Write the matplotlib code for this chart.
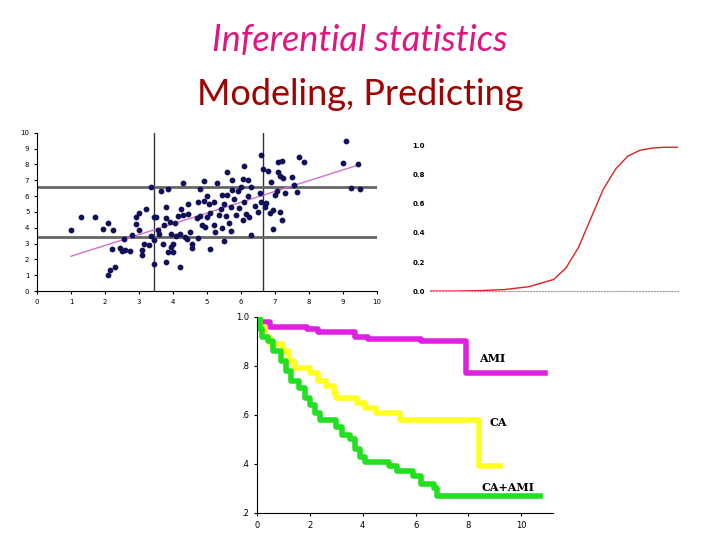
import matplotlib
matplotlib.use("Agg")
import matplotlib.pyplot as plt
import numpy as np

# scatter data
pts = [(1.0,3.85),(1.3,4.7),(1.7,4.7),(1.95,3.9),(2.1,4.3),(2.25,3.85),(2.1,1.0),(2.15,1.35),(2.3,1.55),(2.2,2.65),(2.45,2.7),(2.5,2.55),(2.6,2.6),(2.55,3.3),(2.75,2.55),(2.8,3.55),(2.9,4.7),(2.9,4.25),(3.0,3.85),(3.0,4.95),(3.1,2.6),(3.1,2.25),(3.15,3.0),(3.2,5.2),(3.3,2.9),(3.35,3.5),(3.35,6.55),(3.45,4.7),(3.5,4.7),(3.45,3.2),(3.45,1.7),(3.55,3.85),(3.6,3.6),(3.65,6.35),(3.7,3.0),(3.75,4.2),(3.8,5.3),(3.8,4.6),(3.85,6.45),(3.8,1.85),(3.85,2.5),(3.9,4.35),(3.95,2.8),(3.95,3.6),(4.0,2.5),(4.0,3.0),(4.05,4.3),(4.1,3.5),(4.15,4.75),(4.2,3.6),(4.2,1.5),(4.25,5.2),(4.3,6.85),(4.3,4.8),(4.35,3.4),(4.4,3.3),(4.45,5.5),(4.45,4.9),(4.5,3.75),(4.55,2.95),(4.55,2.75),(4.7,4.6),(4.75,5.6),(4.75,3.35),(4.8,4.75),(4.8,6.45),(4.85,4.2),(4.9,6.95),(4.9,5.7),(4.95,4.05),(5.0,4.7),(5.0,6.0),(5.05,5.5),(5.1,4.95),(5.1,2.65),(5.2,4.2),(5.2,5.6),(5.25,3.75),(5.3,6.8),(5.35,4.8),(5.4,5.2),(5.45,6.1),(5.45,4.0),(5.5,3.15),(5.5,5.5),(5.55,4.75),(5.6,7.55),(5.6,6.05),(5.65,4.3),(5.7,5.3),(5.7,3.8),(5.75,6.4),(5.75,7.05),(5.8,5.8),(5.85,4.8),(5.9,6.3),(5.95,5.25),(6.0,6.55),(6.05,7.1),(6.05,4.5),(6.1,5.65),(6.1,7.9),(6.15,4.9),(6.2,7.0),(6.2,6.0),(6.25,4.7),(6.3,3.55),(6.3,6.6),(6.4,5.4),(6.5,5.0),(6.55,6.2),(6.6,8.6),(6.6,5.6),(6.65,7.7),(6.7,5.3),(6.75,5.55),(6.8,7.6),(6.85,4.95),(6.9,6.9),(6.95,5.1),(6.95,3.95),(7.0,6.1),(7.05,6.3),(7.1,8.15),(7.1,7.5),(7.15,7.25),(7.15,5.0),(7.2,4.5),(7.2,8.2),(7.25,7.15),(7.3,6.2),(7.5,7.2),(7.55,6.7),(7.65,6.25),(7.7,8.5),(7.85,8.15),(9.0,8.1),(9.1,9.5),(9.25,6.5),(9.45,8.0),(9.5,6.45)]
sx = [p[0] for p in pts]
sy = [p[1] for p in pts]
reg_x = [1.0, 9.5]
reg_y = [2.2, 8.0]
hlines = [6.6, 3.4]
vlines = [3.45, 6.65]

# sigmoid curve points
sig_x = [0, 1, 2, 3, 4, 5, 5.5, 6, 6.5, 7, 7.5, 8, 8.5, 9, 9.5, 10]
sig_y = [0.0, 0.0, 0.003, 0.01, 0.03, 0.08, 0.16, 0.30, 0.50, 0.70, 0.84, 0.93, 0.97, 0.985, 0.99, 0.99]

# Kaplan-Meier curves
ami_t = [0, 0.1, 0.5, 1.9, 2.3, 3.7, 4.2, 6.2, 7.9, 10.9]
ami_s = [1.0, 0.98, 0.96, 0.95, 0.94, 0.92, 0.91, 0.90, 0.77, 0.77]
ca_t = [0, 0.1, 0.3, 0.5, 1.0, 1.2, 1.4, 2.0, 2.3, 2.6, 2.9, 3.0, 3.8, 4.1, 4.5, 5.4, 8.4, 9.2]
ca_s = [1.0, 0.96, 0.92, 0.89, 0.86, 0.82, 0.79, 0.77, 0.74, 0.72, 0.69, 0.67, 0.65, 0.63, 0.61, 0.58, 0.39, 0.39]
caami_t = [0, 0.1, 0.2, 0.4, 0.6, 0.9, 1.1, 1.3, 1.6, 1.8, 2.0, 2.2, 2.4, 3.0, 3.2, 3.5, 3.7, 3.9, 4.1, 5.0, 5.3, 5.9, 6.2, 6.7, 6.8, 10.7]
caami_s = [1.0, 0.95, 0.92, 0.90, 0.86, 0.82, 0.78, 0.74, 0.71, 0.67, 0.64, 0.61, 0.58, 0.55, 0.52, 0.50, 0.46, 0.43, 0.41, 0.39, 0.37, 0.35, 0.32, 0.30, 0.27, 0.27]

fig = plt.figure(figsize=(7.2, 5.4), dpi=100)
fig.text(0.5, 0.925, "Inferential statistics", ha="center", va="center",
         fontsize=26, style="italic", color="#E0167E", family="Lato")
fig.text(0.5, 0.825, "Modeling, Predicting", ha="center", va="center",
         fontsize=26, color="#A00000", family="Lato")

ax1 = fig.add_axes([0.0514, 0.461, 0.472, 0.293])
for v in vlines:
    ax1.axvline(v, color="#333333", lw=1)
for h in hlines:
    ax1.axhline(h, color="#666666", lw=2)
ax1.plot(reg_x, reg_y, color="#D070D0", lw=1)
ax1.scatter(sx, sy, s=10, color="#10105A", zorder=3)
ax1.set_xlim(0, 10); ax1.set_ylim(0, 10)
ax1.set_xticks(range(11)); ax1.set_yticks(range(11))
ax1.tick_params(labelsize=5, length=2)
for s in ["top", "right"]:
    ax1.spines[s].set_visible(False)

ax2 = fig.add_axes([0.597, 0.461, 0.344, 0.269])
ax2.plot(sig_x, sig_y, color="#E02020", lw=1)
ax2.set_xlim(0, 10); ax2.set_ylim(0, 1.0)
ax2.set_yticks([0, 0.2, 0.4, 0.6, 0.8, 1.0])
ax2.set_yticklabels(["0.0", "0.2", "0.4", "0.6", "0.8", "1.0"], fontsize=5, fontweight="bold")
ax2.set_xticks([])
ax2.tick_params(length=0)
for s in ["top", "right", "left"]:
    ax2.spines[s].set_visible(False)
ax2.spines["bottom"].set_linestyle(":")
ax2.spines["bottom"].set_color("#999999")

ax3 = fig.add_axes([0.357, 0.05, 0.411, 0.363])
ax3.step(ami_t, ami_s, where="post", color="#E020E0", lw=4)
ax3.step(ca_t, ca_s, where="post", color="#FFFF20", lw=4)
ax3.step(caami_t, caami_s, where="post", color="#20E020", lw=4)
ax3.set_xlim(0, 11.2); ax3.set_ylim(0.2, 1.0)
ax3.set_xticks([0, 2, 4, 6, 8, 10])
ax3.set_yticks([0.2, 0.4, 0.6, 0.8, 1.0])
ax3.set_yticklabels([".2", ".4", ".6", ".8", "1.0"])
ax3.tick_params(labelsize=6, length=2)
for s in ["top", "right"]:
    ax3.spines[s].set_visible(False)
ax3.text(8.4, 0.815, "AMI", family="DejaVu Serif", fontweight="bold", fontsize=8)
ax3.text(8.8, 0.555, "CA", family="DejaVu Serif", fontweight="bold", fontsize=8)
ax3.text(8.5, 0.29, "CA+AMI", family="DejaVu Serif", fontweight="bold", fontsize=8)

fig.savefig("out.png", dpi=100)
